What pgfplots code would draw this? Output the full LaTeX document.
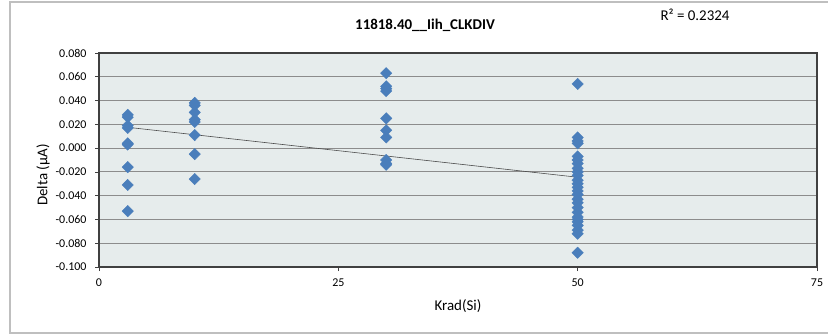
\documentclass[border=0pt]{standalone}
\usepackage{fontspec}
\setmainfont{Carlito}
\usepackage{pgfplots}
\pgfplotsset{compat=1.18}
\definecolor{plotbg}{HTML}{E6ECEC}
\definecolor{mblue}{HTML}{4A7EBB}
\definecolor{gridc}{HTML}{8C8C8C}
\definecolor{framec}{HTML}{404040}
\definecolor{borderc}{HTML}{BFBFBF}
\begin{document}
\begin{tikzpicture}[x=1bp,y=1bp]
\useasboundingbox (0,0) rectangle (828,335);
\fill[white] (0,0) rectangle (828,335);
\draw[borderc, line width=1.2bp] (10,2) rectangle (845,333);
\begin{axis}[
  at={(99bp,68bp)}, anchor=south west,
  scale only axis, width=718bp, height=214bp,
  xmin=0, xmax=75, ymin=-0.1, ymax=0.08,
  xtick={0,25,50,75},
  ytick={-0.1,-0.08,-0.06,-0.04,-0.02,0,0.02,0.04,0.06,0.08},
  axis background/.style={fill=plotbg},
  ymajorgrids, grid style={gridc, line width=0.8bp},
  axis line style={framec, line width=1.1bp},
  tick style={framec, line width=0.6bp},
  tick align=outside, major tick length=4bp,
  xtick pos=bottom, ytick pos=left,
  /pgf/number format/assume math mode=true,
  ticklabel style={font=\fontsize{12}{14}\selectfont},
  yticklabel style={/pgf/number format/.cd, fixed, fixed zerofill, precision=3, /tikz/.cd, xshift=-5bp},
  xticklabel style={yshift=-4bp},
  scaled y ticks=false,
  clip=false,
]
\addplot[only marks, mark=diamond*, mark size=5.7bp, mark options={xscale=1.33, fill=mblue, draw=mblue}] table {
x y
3 0.028
3 0.026
3 0.019
3 0.017
3 0.004
3 0.003
3 -0.016
3 -0.031
3 -0.053
10 0.038
10 0.036
10 0.030
10 0.024
10 0.022
10 0.011
10 -0.005
10 -0.026
30 0.063
30 0.052
30 0.050
30 0.048
30 0.025
30 0.015
30 0.009
30 -0.010
30 -0.013
30 -0.014
50 0.054
50 0.009
50 0.006
50 0.004
50 -0.007
50 -0.010
50 -0.013
50 -0.017
50 -0.020
50 -0.023
50 -0.027
50 -0.030
50 -0.033
50 -0.036
50 -0.039
50 -0.043
50 -0.046
50 -0.050
50 -0.054
50 -0.058
50 -0.060
50 -0.062
50 -0.065
50 -0.069
50 -0.072
50 -0.088
};
\addplot[black!70, line width=0.6bp] coordinates {(3,0.0175) (50,-0.0245)};
\end{axis}
\node[font=\fontsize{15}{17}\selectfont\bfseries] at (425,310) {11818.40\_\_Iih\_CLKDIV};
\node[font=\fontsize{15}{17}\selectfont] at (695,320) {R² = 0.2324};
\node[font=\fontsize{15}{17}\selectfont] at (458,29) {Krad(Si)};
\node[font=\fontsize{15}{17}\selectfont, rotate=90] at (43,160) {Delta (µA)};
\end{tikzpicture}
\end{document}
